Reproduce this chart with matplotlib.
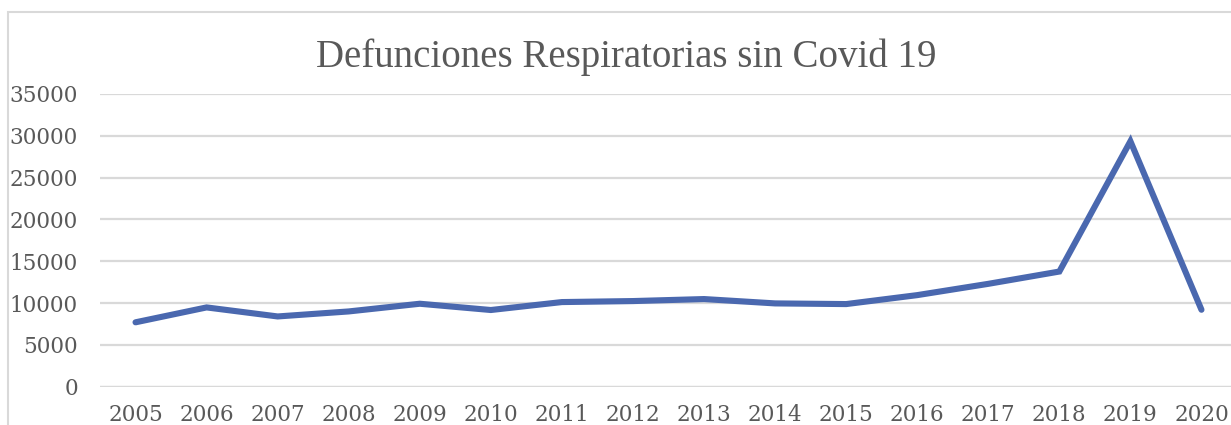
import numpy as np
import matplotlib
matplotlib.use("Agg")
import matplotlib.pyplot as plt
from matplotlib.patches import Rectangle

years = [str(y) for y in range(2005, 2021)]
deaths = [7700, 9480, 8400, 9000, 9920, 9170, 10120, 10240,
          10480, 9960, 9880, 10950, 12300, 13770, 29350, 9200]
yticks = [0, 5000, 10000, 15000, 20000, 25000, 30000, 35000]

title = "Defunciones Respiratorias sin Covid 19"
line_color = "#4A68AF"
text_color = "#595959"
grid_color = "#D9D9D9"

fig = plt.figure(figsize=(12.31, 4.25), dpi=100)
ax = fig.add_axes([100 / 1231, 38.3 / 425, 1137 / 1231, 292.7 / 425])

x = np.arange(len(years))
ax.plot(x, deaths, color=line_color, lw=4.4, solid_capstyle="round",
        solid_joinstyle="miter", zorder=3)

ax.set_xlim(-0.5, len(years) - 0.5)
ax.set_ylim(0, 35000)
ax.set_yticks(yticks)
ax.set_yticklabels([str(v) for v in yticks])
ax.set_xticks(x)
ax.set_xticklabels(years)
ax.yaxis.grid(True, color=grid_color, lw=1.6)
ax.set_axisbelow(True)
for s in ax.spines.values():
    s.set_visible(False)
ax.tick_params(axis="both", length=0, labelsize=15.5, labelcolor=text_color)
ax.tick_params(axis="y", pad=16)
ax.tick_params(axis="x", pad=12.5)
for lab in ax.get_xticklabels() + ax.get_yticklabels():
    lab.set_fontfamily("DejaVu Serif")
ax.axhline(0, color=grid_color, lw=1.6, zorder=1)

fig.text(626 / 1231, 1 - 67 / 425, title, ha="center", va="baseline",
         fontsize=28, color=text_color, family="Liberation Serif")

# chart frame (only left and top edges fall inside the image)
fig.patches.append(Rectangle((8 / 1231, -0.1), 1.2, 1 - 12 / 425 + 0.1,
                             transform=fig.transFigure, fill=False,
                             edgecolor=grid_color, lw=1.5))

fig.savefig("out.png", dpi=100)
